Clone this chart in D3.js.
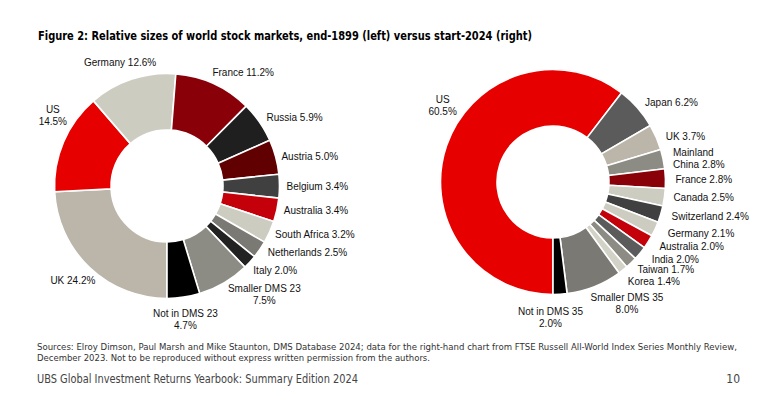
<!DOCTYPE html>
<html>
<head>
<meta charset="utf-8">
<script src="https://cdn.jsdelivr.net/npm/d3@7"></script>
<style>
  html, body { margin: 0; padding: 0; background: #fff; }
  svg { display: block; }
  .lbl { font-family: 'Liberation Sans', Arial, sans-serif; font-size: 10px; fill: #111; }
  .title { font-family: 'Liberation Sans Narrow', 'DejaVu Sans Condensed', sans-serif; font-weight: bold; font-size: 13px; fill: #000; }
  .src { font-family: 'Liberation Sans Narrow', 'DejaVu Sans Condensed', sans-serif; font-size: 9.5px; fill: #333; }
  .foot { font-family: 'Liberation Sans Narrow', 'DejaVu Sans Condensed', sans-serif; font-size: 12px; fill: #444; }
</style>
</head>
<body>
<svg id="chart" width="764" height="402"></svg>
<script>
///// 1. DATOS
// 1899 (izquierda), en orden horario desde las 6
const LEFT_NAMES  = ['UK', 'US', 'Germany', 'France', 'Russia', 'Austria', 'Belgium',
                     'Australia', 'South Africa', 'Netherlands', 'Italy',
                     'Smaller DMS 23', 'Not in DMS 23'];
const LEFT_VALUES = [24.2, 14.5, 12.6, 11.2, 5.9, 5.0, 3.4, 3.4, 3.2, 2.5, 2.0, 7.5, 4.7];

// 2024 (derecha)
const RIGHT_NAMES  = ['US', 'Japan', 'UK', 'Mainland China', 'France', 'Canada', 'Switzerland',
                      'Germany', 'Australia', 'India', 'Taiwan', 'Korea',
                      'Smaller DMS 35', 'Not in DMS 35'];
const RIGHT_VALUES = [60.5, 6.2, 3.7, 2.8, 2.8, 2.5, 2.4, 2.1, 2.0, 2.0, 1.7, 1.4, 8.0, 2.0];

const TITLE   = 'Figure 2: Relative sizes of world stock markets, end-1899 (left) versus start-2024 (right)';
const SOURCES = [
  'Sources: Elroy Dimson, Paul Marsh and Mike Staunton, DMS Database 2024; data for the right-hand chart from FTSE Russell All-World Index Series Monthly Review,',
  'December 2023. Not to be reproduced without express written permission from the authors.'
];
const FOOTER = 'UBS Global Investment Returns Yearbook: Summary Edition 2024';
const PAGE   = '10';

///// 2. ESTILO
const COLORS = {
  'UK': '#bbb6a9', 'US': '#e60000', 'Germany': '#cdccc0', 'France': '#8a0009',
  'Russia': '#1f1f1f', 'Austria': '#600000', 'Belgium': '#404040', 'Australia': '#c4000b',
  'South Africa': '#cdccc0', 'Netherlands': '#7b7974', 'Italy': '#222222',
  'Smaller DMS 23': '#8d8c84', 'Not in DMS 23': '#000000',
  'Japan': '#5b5b5b', 'Mainland China': '#8d8c84', 'Canada': '#cdccc0',
  'Switzerland': '#404040', 'India': '#5b5b5b', 'Taiwan': '#8d8c84', 'Korea': '#d3d2c7',
  'Smaller DMS 35': '#7b7974', 'Not in DMS 35': '#000000'
};

// líneas de etiqueta (nombre + valor) y alineación
function labelLines (name, v) {
  const pct = d3.format('.1f')(v) + '%';
  if (name === 'Mainland China') return { lines: ['Mainland', 'China ' + pct], align: 'left' };
  if (name === 'US' || name.startsWith('Smaller') || name.startsWith('Not in'))
    return { lines: [name, pct], align: 'center' };
  return { lines: [name + ' ' + pct], align: 'center' };
}

// ajustes finos de etiquetas (px)
const NUDGE_LEFT = {
  'UK': [10, 4], 'US': [9, -19], 'Germany': [-10, -5], 'France': [-4, 0],
  'Russia': [2, 2], 'Austria': [0, 3], 'Belgium': [1, 0], 'Australia': [1, -2],
  'South Africa': [0, -3], 'Netherlands': [3, -4], 'Italy': [-1, 0],
  'Smaller DMS 23': [1, -4], 'Not in DMS 23': [1, 4]
};
const NUDGE_RIGHT = {
  'US': [16, -34], 'Japan': [3, 3], 'UK': [4, 4], 'Mainland China': [4, 3],
  'France': [4, 1], 'Canada': [3, -1], 'Switzerland': [5, -1], 'Germany': [7, -1],
  'Australia': [6, -2], 'India': [7, -1], 'Taiwan': [2, -2], 'Korea': [1, 2],
  'Smaller DMS 35': [-6, 0], 'Not in DMS 35': [-10, 5]
};

const R_OUT = 112.5, R_IN = 56, LINE_H = 12;

const svg = d3.select('#chart');

///// 3. DONUT
function drawDonut (cx, cy, names, values, nudge) {
  const data = names.map((n, i) => ({ name: n, value: values[i] }));
  const pie = d3.pie().sort(null).value(d => d.value)
                .startAngle(Math.PI).endAngle(3 * Math.PI);
  const arc = d3.arc().innerRadius(R_IN).outerRadius(R_OUT);
  const arcs = pie(data);

  const g = svg.append('g').attr('transform', `translate(${cx},${cy})`);

  g.append('g')
   .selectAll('path')
   .data(arcs)
   .join('path')
     .attr('d', arc)
     .attr('fill', d => COLORS[d.data.name])
     .attr('stroke', '#fff')
     .attr('stroke-width', 1.6)
     .attr('stroke-linejoin', 'round');

  const R_LBL = R_OUT + 6;
  arcs.forEach(a => {
    const th = (a.startAngle + a.endAngle) / 2;
    const s = Math.sin(th), c = Math.cos(th);
    const px = R_LBL * s, py = -R_LBL * c;
    const { lines, align } = labelLines(a.data.name, a.data.value);

    const t = g.append('text').attr('class', 'lbl');
    const spans = lines.map(l => t.append('tspan').text(l));
    const widths = spans.map(sp => sp.node().getComputedTextLength());
    const bw = d3.max(widths);
    const bh = lines.length * LINE_H;

    let left;
    if (s > 0.35) left = px;
    else if (s < -0.35) left = px - bw;
    else left = px - bw / 2;
    const midY = py - c * bh / 2;

    const [dx, dy] = nudge[a.data.name] || [0, 0];
    left += dx;
    const top = midY - bh / 2 + dy;

    spans.forEach((sp, i) => {
      sp.attr('y', top + (i + 1) * LINE_H - 2.5);
      if (align === 'left') sp.attr('x', left).attr('text-anchor', 'start');
      else sp.attr('x', left + bw / 2).attr('text-anchor', 'middle');
    });
  });
}

drawDonut(167, 186, LEFT_NAMES, LEFT_VALUES, NUDGE_LEFT);
drawDonut(553, 182, RIGHT_NAMES, RIGHT_VALUES, NUDGE_RIGHT);

///// 4. TEXTOS
svg.append('text').attr('class', 'title')
   .attr('x', 38).attr('y', 39.5)
   .attr('textLength', 494).attr('lengthAdjust', 'spacingAndGlyphs')
   .text(TITLE);

const SRC_W = [700, 393];
SOURCES.forEach((s, i) => {
  svg.append('text').attr('class', 'src')
     .attr('x', 37).attr('y', 349.5 + i * 11)
     .attr('textLength', SRC_W[i]).attr('lengthAdjust', 'spacingAndGlyphs')
     .text(s);
});

svg.append('text').attr('class', 'foot')
   .attr('x', 37).attr('y', 383)
   .attr('textLength', 321).attr('lengthAdjust', 'spacingAndGlyphs')
   .text(FOOTER);

svg.append('text').attr('class', 'foot')
   .attr('x', 740).attr('y', 383).attr('text-anchor', 'end')
   .text(PAGE);
</script>
</body>
</html>
